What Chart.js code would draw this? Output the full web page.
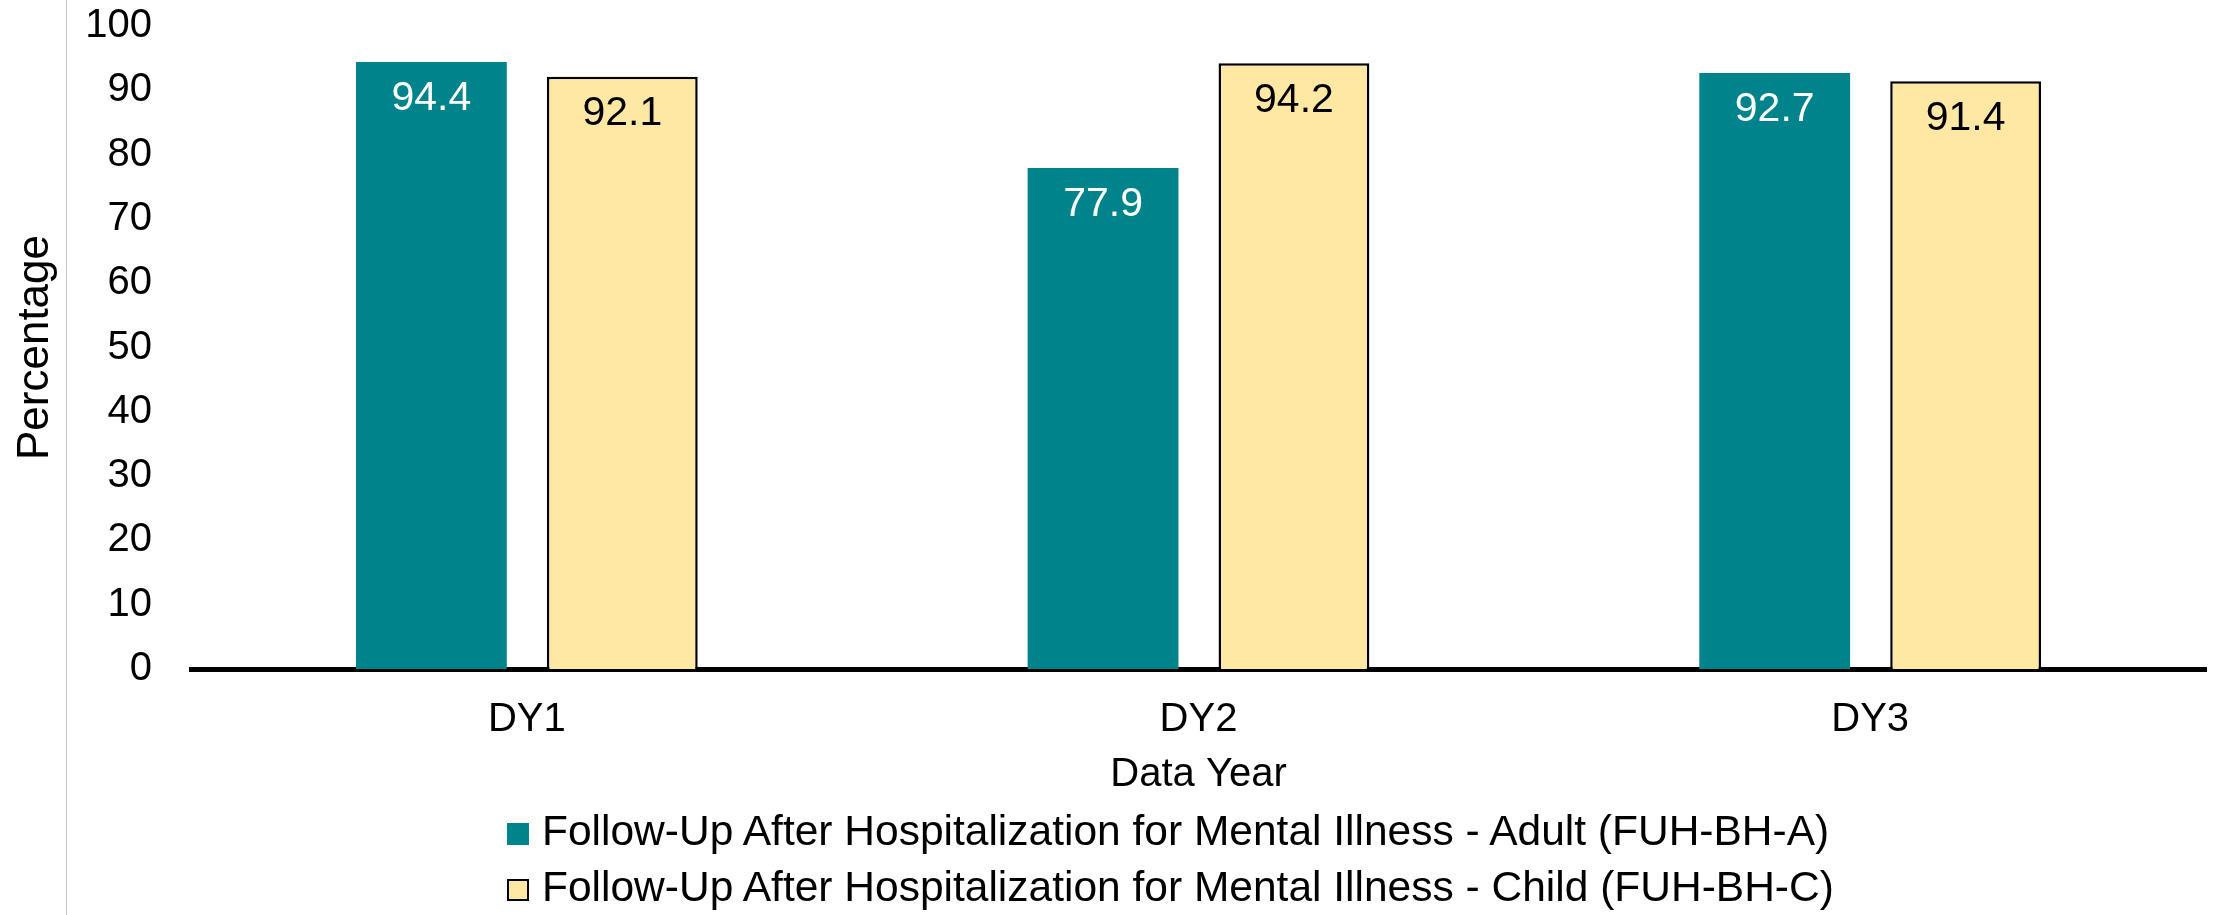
<!DOCTYPE html>
<html>
<head>
<meta charset="utf-8">
<script src="https://cdn.jsdelivr.net/npm/chart.js@4.4.1/dist/chart.umd.min.js"></script>
<style>
	html, body { margin: 0; padding: 0; background: #fff; }
	#wrap { position: relative; width: 2216px; height: 915px; overflow: hidden; font-family: "Liberation Sans", Arial, sans-serif; }
	#edge { position: absolute; left: 66px; top: 0; width: 1px; height: 915px; background: #c4c4c4; }
	#legend { position: absolute; left: 507px; top: 806px; }
	.row { position: relative; height: 56px; line-height: 50px; font-size: 42.5px; color: #000; white-space: nowrap; padding-left: 35px; }
	.box { position: absolute; left: 0; top: 17px; width: 22px; height: 22px; box-sizing: border-box; }
</style>
</head>
<body>
<div id="wrap">
	<canvas id="chart" width="2216" height="915"></canvas>
	<div id="edge"></div>
	<div id="legend"></div>
</div>
<script>
const categories = ["DY1", "DY2", "DY3"];
const adultValues = [94.4, 77.9, 92.7];
const childValues = [92.1, 94.2, 91.4];
const seriesNames = [
	"Follow-Up After Hospitalization for Mental Illness - Adult (FUH-BH-A)",
	"Follow-Up After Hospitalization for Mental Illness - Child (FUH-BH-C)"
];
const yMin = 0, yMax = 100, yStep = 10;

const fillColors = ["#00838A", "#FFE7A4"];
const lineColors = ["#00838A", "#000000"];
const lineWidths = [0, 2.5];
const labelColors = ["#ffffff", "#000000"];
const FONT = "'Liberation Sans', Arial, sans-serif";

Chart.defaults.font.family = FONT;
Chart.defaults.color = "#000";

// value labels just under the top of each bar
const barLabels = {
	id: "barLabels",
	afterDatasetsDraw(chart) {
		const ctx = chart.ctx;
		ctx.save();
		ctx.font = "41px " + FONT;
		ctx.textAlign = "center";
		ctx.textBaseline = "middle";
		chart.data.datasets.forEach((ds, i) => {
			const meta = chart.getDatasetMeta(i);
			ctx.fillStyle = labelColors[i];
			meta.data.forEach((bar, j) => {
				ctx.fillText(ds.data[j].toFixed(1), bar.x, bar.y + 37);
			});
		});
		ctx.restore();
	}
};

new Chart(document.getElementById("chart"), {
	type: "bar",
	data: {
		labels: categories,
		datasets: [adultValues, childValues].map((vals, i) => ({
			label: seriesNames[i],
			data: vals,
			backgroundColor: fillColors[i],
			borderColor: lineColors[i],
			borderWidth: lineWidths[i],
			borderSkipped: "start",
			categoryPercentage: 0.5685,
			barPercentage: 0.79
		}))
	},
	options: {
		responsive: false,
		animation: false,
		devicePixelRatio: 1,
		layout: { padding: { top: 26, right: 10, bottom: 116, left: 0 } },
		plugins: {
			legend: { display: false },
			tooltip: { enabled: false }
		},
		scales: {
			x: {
				grid: { display: false, drawTicks: false },
				border: { display: true, color: "#000", width: 5 },
				ticks: { font: { size: 40 }, padding: 27, color: "#000" },
				title: { display: true, text: "Data Year", font: { size: 40 }, padding: 0, color: "#000" },
				afterFit(scale) {
					scale.height = 130;
					scale.paddingLeft = 0;
					scale.paddingRight = 0;
				}
			},
			y: {
				min: yMin,
				max: yMax,
				grid: { display: false, drawTicks: false },
				border: { display: false },
				ticks: { stepSize: yStep, font: { size: 40 }, padding: 39, color: "#000" },
				title: { display: true, text: "Percentage", font: { size: 44 }, padding: { top: 9, bottom: 0 }, color: "#000" },
				afterFit(scale) {
					scale.width = 191;
					scale.paddingTop = 0;
					scale.paddingBottom = 0;
				}
			}
		}
	},
	plugins: [barLabels]
});

// legend as two stacked rows, left-aligned like the original
const legend = document.getElementById("legend");
seriesNames.forEach((name, i) => {
	const row = document.createElement("div");
	row.className = "row";
	const box = document.createElement("span");
	box.className = "box";
	box.style.background = fillColors[i];
	if (lineWidths[i] > 0) box.style.border = lineWidths[i] + "px solid " + lineColors[i];
	row.appendChild(box);
	row.appendChild(document.createTextNode(name));
	legend.appendChild(row);
});
</script>
</body>
</html>
